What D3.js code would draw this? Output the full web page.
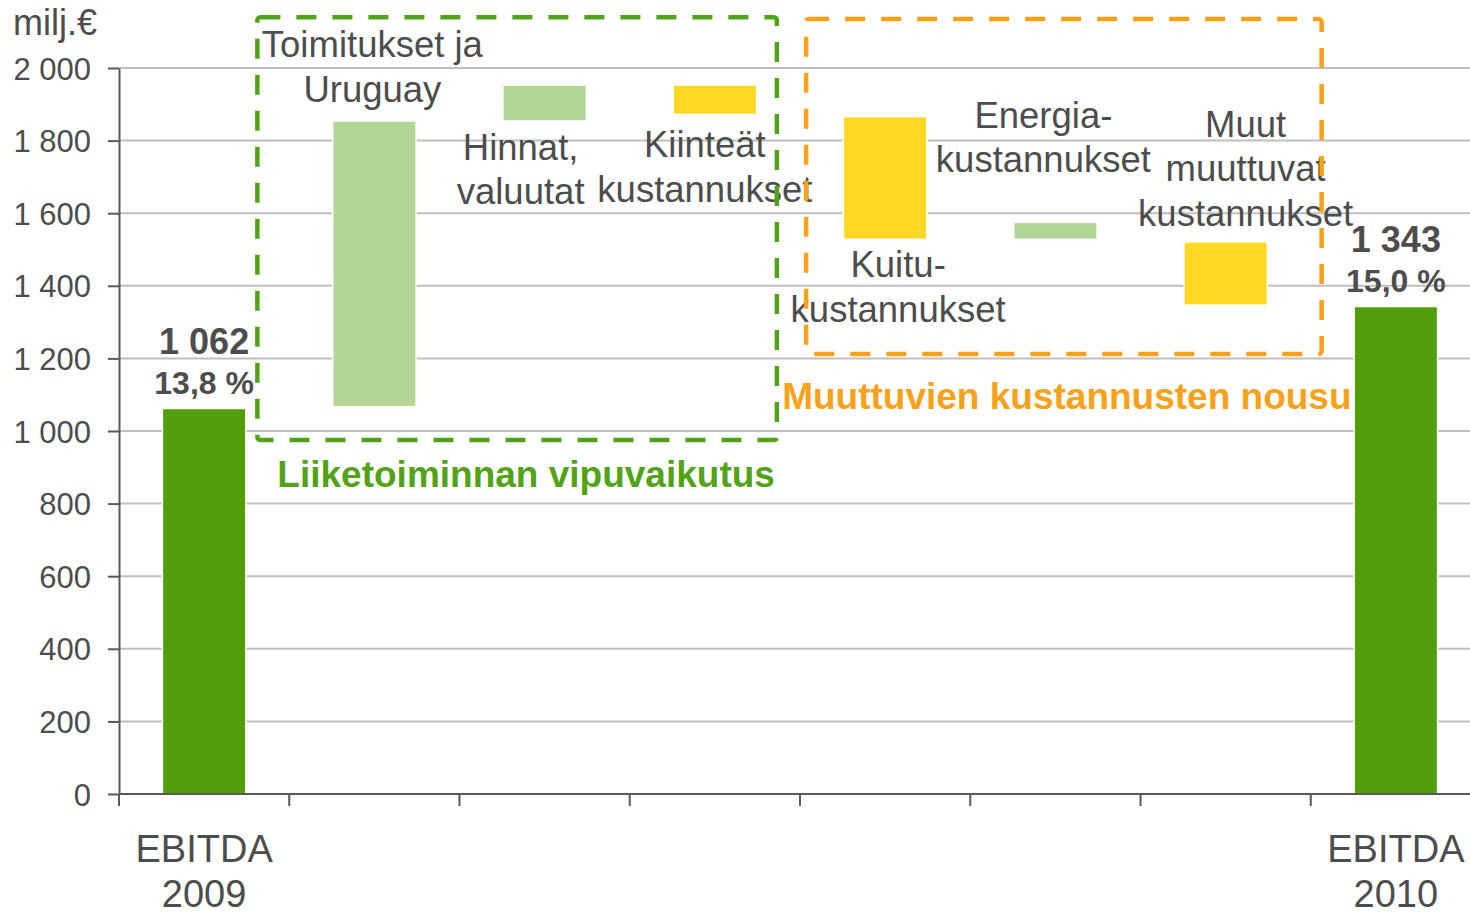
<!DOCTYPE html>
<html>
<head>
<meta charset="utf-8">
<script src="https://cdn.jsdelivr.net/npm/d3@7/dist/d3.min.js"></script>
<style>
  body { margin: 0; background: #fff; }
  svg text { font-family: "Liberation Sans", Arial, sans-serif; fill: #4d4d4d; }
</style>
</head>
<body>
<script>
// data (milj. €)
const categories = ["EBITDA 2009", "Toimitukset ja Uruguay", "Hinnat, valuutat", "Kiinteät kustannukset",
                    "Kuitukustannukset", "Energiakustannukset", "Muut muuttuvat kustannukset", "EBITDA 2010"];
const barFrom = [0, 1067, 1854, 1953, 1866, 1528, 1521, 0];
const barTo   = [1062, 1854, 1953, 1872, 1528, 1575, 1347, 1343];
const barKind = ["total", "up", "up", "down", "down", "up", "down", "total"];
const barLabels = [[], ["Toimitukset ja", "Uruguay"], ["Hinnat,", "valuutat"], ["Kiinteät", "kustannukset"],
                   ["Kuitu-", "kustannukset"], ["Energia-", "kustannukset"], ["Muut", "muuttuvat", "kustannukset"], []];
const xTickLabels = [["EBITDA", "2009"], [], [], [], [], [], [], ["EBITDA", "2010"]];
const ebitdaMargin = [13.8, null, null, null, null, null, null, 15.0];
const yTicks = [0, 200, 400, 600, 800, 1000, 1200, 1400, 1600, 1800, 2000];
const groupNames = ["Liiketoiminnan vipuvaikutus", "Muuttuvien kustannusten nousu"];
const groupFirst = [1, 4];
const groupLast = [3, 6];
const groupTop = [2140, 2135];
const groupBottom = [975, 1212];

// layout for labels and boxes (not data)
const labelLayout = [
  null,
  {pos: "above", dx: -2,  dy: -19},
  {pos: "below", dx: -24, dy: 39},
  {pos: "below", dx: -10, dy: 43},
  {pos: "below", dx: 13,  dy: 38},
  {pos: "above", dx: -12, dy: -50},
  {pos: "above", dx: 20,  dy: -16},
  null
];
const boxLayout = [
  {padL: 117, padR: 62, titleDy: 47, titleDx: 9},
  {padL: 79, padR: 96, titleDy: 55, titleDx: 3}
];

const colors = {total: "#519e0c", up: "#b3d596", down: "#ffd826"};
const groupColors = ["#53a318", "#f8a11a"];

const W = 1470, H = 916;
const loc = d3.formatLocale({decimal: ",", thousands: " ", grouping: [3], currency: ["", " €"]});
const fmt = loc.format(",d");
const fmtPct = loc.format(".1f");

const svg = d3.select("body").append("svg")
  .attr("width", W)
  .attr("height", H);

const x = d3.scaleBand()
  .domain(categories)
  .range([119, 119 + 170.25 * categories.length])
  .paddingInner(0.51)
  .paddingOuter(0.255);

const y = d3.scaleLinear()
  .domain([0, 2000])
  .range([794, 68]);

const cx = d => x(d) + x.bandwidth() / 2;

// gridlines
svg.append("g")
  .selectAll("line")
  .data(yTicks.filter(t => t > 0))
  .enter()
  .append("line")
  .attr("x1", 119).attr("x2", W)
  .attr("y1", d => y(d)).attr("y2", d => y(d))
  .attr("stroke", "#bfbfbf")
  .attr("stroke-width", 2);

// y axis
const yAxis = svg.append("g")
  .attr("transform", "translate(119,0)")
  .call(d3.axisLeft(y).tickValues(yTicks).tickFormat(fmt).tickSize(11).tickPadding(17).tickSizeOuter(0));
yAxis.select(".domain").attr("stroke", "#595959").attr("stroke-width", 2);
yAxis.selectAll(".tick line").attr("stroke", "#595959").attr("stroke-width", 2);
yAxis.selectAll(".tick text")
  .style("font-size", "31px")
  .attr("fill", "#4d4d4d")
  .attr("dy", "0.36em");

// unit
svg.append("text")
  .attr("x", 13).attr("y", 35)
  .style("font-size", "36px")
  .text("milj.€");

// bars
svg.append("g")
  .selectAll("rect")
  .data(categories)
  .enter()
  .append("rect")
  .attr("x", d => x(d))
  .attr("width", x.bandwidth())
  .attr("y", (d, i) => y(Math.max(barFrom[i], barTo[i])))
  .attr("height", (d, i) => Math.abs(y(barFrom[i]) - y(barTo[i])))
  .attr("fill", (d, i) => colors[barKind[i]])
  .attr("stroke", "#fff")
  .attr("stroke-width", 1.5);

// x axis
svg.append("line")
  .attr("x1", 119).attr("x2", W)
  .attr("y1", y(0)).attr("y2", y(0))
  .attr("stroke", "#595959").attr("stroke-width", 2);
svg.append("g")
  .selectAll("line")
  .data(d3.range(categories.length + 1))
  .enter()
  .append("line")
  .attr("x1", i => x.range()[0] + i * x.step())
  .attr("x2", i => x.range()[0] + i * x.step())
  .attr("y1", y(0)).attr("y2", y(0) + 12)
  .attr("stroke", "#595959").attr("stroke-width", 2);

svg.append("g")
  .selectAll("text")
  .data(categories)
  .enter()
  .append("text")
  .attr("text-anchor", "middle")
  .style("font-size", "38px")
  .attr("x", d => cx(d))
  .attr("y", y(0) + 68)
  .each(function (d, i) {
    d3.select(this).selectAll("tspan")
      .data(xTickLabels[i])
      .enter()
      .append("tspan")
      .attr("x", cx(d))
      .attr("dy", (t, j) => j ? 45 : 0)
      .text(t => t);
  });

// totals: value + margin
categories.forEach((d, i) => {
  if (barKind[i] !== "total") return;
  const top = y(barTo[i]);
  svg.append("text")
    .attr("x", cx(d)).attr("y", top - 54)
    .attr("text-anchor", "middle")
    .style("font-size", "36px").style("font-weight", "bold")
    .text(fmt(barTo[i]));
  svg.append("text")
    .attr("x", cx(d)).attr("y", top - 14)
    .attr("text-anchor", "middle")
    .style("font-size", "32px").style("font-weight", "bold")
    .text(fmtPct(ebitdaMargin[i]) + " %");
});

// category labels next to floating bars
categories.forEach((d, i) => {
  const lay = labelLayout[i];
  if (!lay) return;
  const lines = barLabels[i];
  const top = y(Math.max(barFrom[i], barTo[i]));
  const bottom = y(Math.min(barFrom[i], barTo[i]));
  const lh = 44.5;
  const first = lay.pos === "above" ? top + lay.dy - lh * (lines.length - 1) : bottom + lay.dy;
  svg.append("text")
    .attr("text-anchor", "middle")
    .style("font-size", "36.5px")
    .selectAll("tspan")
    .data(lines)
    .enter()
    .append("tspan")
    .attr("x", cx(d) + lay.dx)
    .attr("y", (t, j) => first + j * lh)
    .text(t => t);
});

// dashed group boxes and titles
groupNames.forEach((name, g) => {
  const lay = boxLayout[g];
  const x0 = cx(categories[groupFirst[g]]) - lay.padL;
  const x1 = cx(categories[groupLast[g]]) + lay.padR;
  const y0 = y(groupTop[g]);
  const y1 = y(groupBottom[g]);
  svg.append("rect")
    .attr("x", x0).attr("y", y0)
    .attr("width", x1 - x0).attr("height", y1 - y0)
    .attr("rx", 3)
    .attr("fill", "none")
    .attr("stroke", groupColors[g])
    .attr("stroke-width", 4.5)
    .attr("stroke-dasharray", "20,16");
  svg.append("text")
    .attr("x", (x0 + x1) / 2 + lay.titleDx)
    .attr("y", y1 + lay.titleDy)
    .attr("text-anchor", "middle")
    .style("font-size", "37px").style("font-weight", "bold")
    .style("fill", groupColors[g])
    .text(name);
});
</script>
</body>
</html>
